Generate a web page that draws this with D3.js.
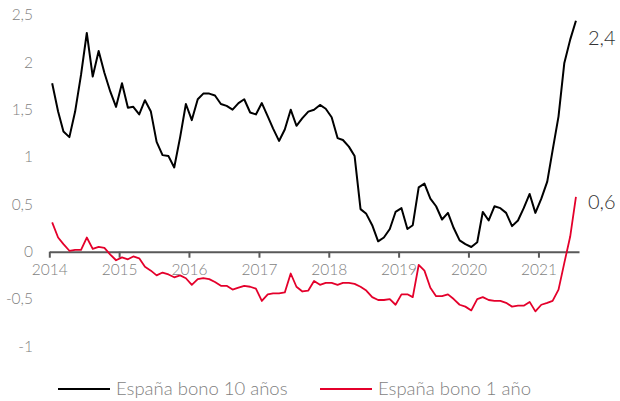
<!DOCTYPE html>
<html><head><meta charset="utf-8">
<script src="https://cdn.jsdelivr.net/npm/d3@7"></script>
<style>
html,body{margin:0;padding:0;background:#fff;}
svg{display:block;font-family:Lato,"Open Sans",sans-serif;}
</style></head>
<body><svg id="c" width="620" height="401"></svg>
<script>
// Monthly observations Jan 2014 .. Jul 2021
const startMonth = "2014-01";
const endMonth = "2021-08";
const bono10 = [1.78,1.48,1.27,1.21,1.48,1.87,2.31,1.85,2.12,1.89,1.69,1.53,
  1.78,1.52,1.53,1.45,1.60,1.48,1.16,1.02,1.01,0.89,1.21,1.56,
  1.39,1.61,1.67,1.67,1.65,1.56,1.54,1.50,1.57,1.61,1.47,1.45,
  1.57,1.43,1.30,1.17,1.29,1.50,1.33,1.41,1.48,1.50,1.55,1.51,
  1.42,1.20,1.18,1.11,1.01,0.45,0.40,0.28,0.11,0.15,0.24,0.42,
  0.46,0.24,0.28,0.68,0.72,0.56,0.48,0.34,0.41,0.25,0.12,0.08,
  0.05,0.10,0.42,0.33,0.48,0.46,0.41,0.27,0.33,0.46,0.61,0.41,
  0.56,0.74,1.07,1.43,1.99,2.24,2.44];
const bono1 = [0.31,0.15,0.08,0.01,0.02,0.02,0.15,0.03,0.05,0.04,-0.03,-0.09,
  -0.06,-0.08,-0.05,-0.07,-0.16,-0.20,-0.25,-0.22,-0.24,-0.27,-0.25,-0.28,
  -0.35,-0.29,-0.28,-0.29,-0.32,-0.36,-0.36,-0.40,-0.38,-0.36,-0.37,-0.39,
  -0.52,-0.45,-0.44,-0.44,-0.43,-0.23,-0.37,-0.42,-0.41,-0.31,-0.35,-0.33,
  -0.33,-0.35,-0.33,-0.33,-0.34,-0.37,-0.41,-0.48,-0.51,-0.51,-0.50,-0.56,
  -0.45,-0.45,-0.48,-0.14,-0.20,-0.38,-0.47,-0.47,-0.45,-0.50,-0.56,-0.58,
  -0.62,-0.50,-0.48,-0.51,-0.52,-0.52,-0.54,-0.58,-0.57,-0.57,-0.53,-0.63,
  -0.56,-0.54,-0.52,-0.40,-0.12,0.16,0.58];
const yTicks = [-1,-0.5,0,0.5,1,1.5,2,2.5];
const xTickLabels = ["2014","2015","2016","2017","2018","2019","2020","2021"];
const seriesNames = ["España bono 10 años","España bono 1 año"];
const endLabels = ["2,4","0,6"];
const colors = ["#000000","#e4002b"];

const svg = d3.select("#c");
const parse = d3.utcParse("%Y-%m");
const months = d3.utcMonth.range(parse(startMonth), parse(endMonth));
const mid = m => d3.utcDay.offset(m, 15);

const x = d3.scaleUtc().domain([parse(startMonth), parse(endMonth)]).range([49.3, 579]);
const y = d3.scaleLinear().domain([-1, 2.5]).range([346.4, 15]);
const fmt = v => String(v).replace(".", ",");

// y labels
svg.append("g").selectAll("text").data(yTicks).join("text")
  .attr("x", 33).attr("y", d => y(d)).attr("dy", "0.35em")
  .attr("text-anchor", "end").attr("font-size", 15.5).attr("font-weight", 300)
  .attr("fill", "#7f7f7f").text(fmt);

// x axis
const yearDates = xTickLabels.map(t => d3.utcParse("%Y")(t));
const xAxis = d3.axisBottom(x).tickValues(yearDates).tickSize(6).tickSizeOuter(0)
  .tickFormat((d, i) => xTickLabels[i]);
const gx = svg.append("g").attr("transform", `translate(0,${y(0)})`).call(xAxis);
gx.select(".domain").attr("stroke", "#595959").attr("stroke-width", 2);
gx.selectAll(".tick line").attr("stroke", "#595959").attr("stroke-width", 2);
gx.selectAll(".tick text").attr("font-size", 15.5).attr("font-weight", 300)
  .attr("fill", "#7f7f7f").attr("font-family", "Lato,sans-serif").attr("y", 12);

// lines
const line = d3.line().x((d, i) => x(mid(months[i]))).y(d => y(d));
[bono10, bono1].forEach((s, k) => {
  svg.append("path").datum(s).attr("d", line).attr("fill", "none")
    .attr("stroke", colors[k]).attr("stroke-width", k === 0 ? 2 : 1.8)
    .attr("stroke-linejoin", "round");
});

// end labels
const endOffsets = [17, 5];
[bono10, bono1].forEach((s, k) => {
  svg.append("text").attr("x", 588).attr("y", y(s[s.length - 1]) + endOffsets[k]).attr("dy", "0.35em")
    .attr("font-size", 20).attr("font-weight", 300).attr("fill", "#333")
    .text(endLabels[k]);
});

// legend
const legX = [58, 320];
seriesNames.forEach((n, k) => {
  const g = svg.append("g").attr("transform", `translate(${legX[k]},389)`);
  g.append("line").attr("x1", 0).attr("x2", 52).attr("stroke", colors[k]).attr("stroke-width", 2);
  g.append("text").attr("x", 58).attr("dy", "0.35em").attr("font-size", 18.5)
    .attr("font-weight", 300).attr("fill", "#7f7f7f").text(n);
});
</script></body></html>
